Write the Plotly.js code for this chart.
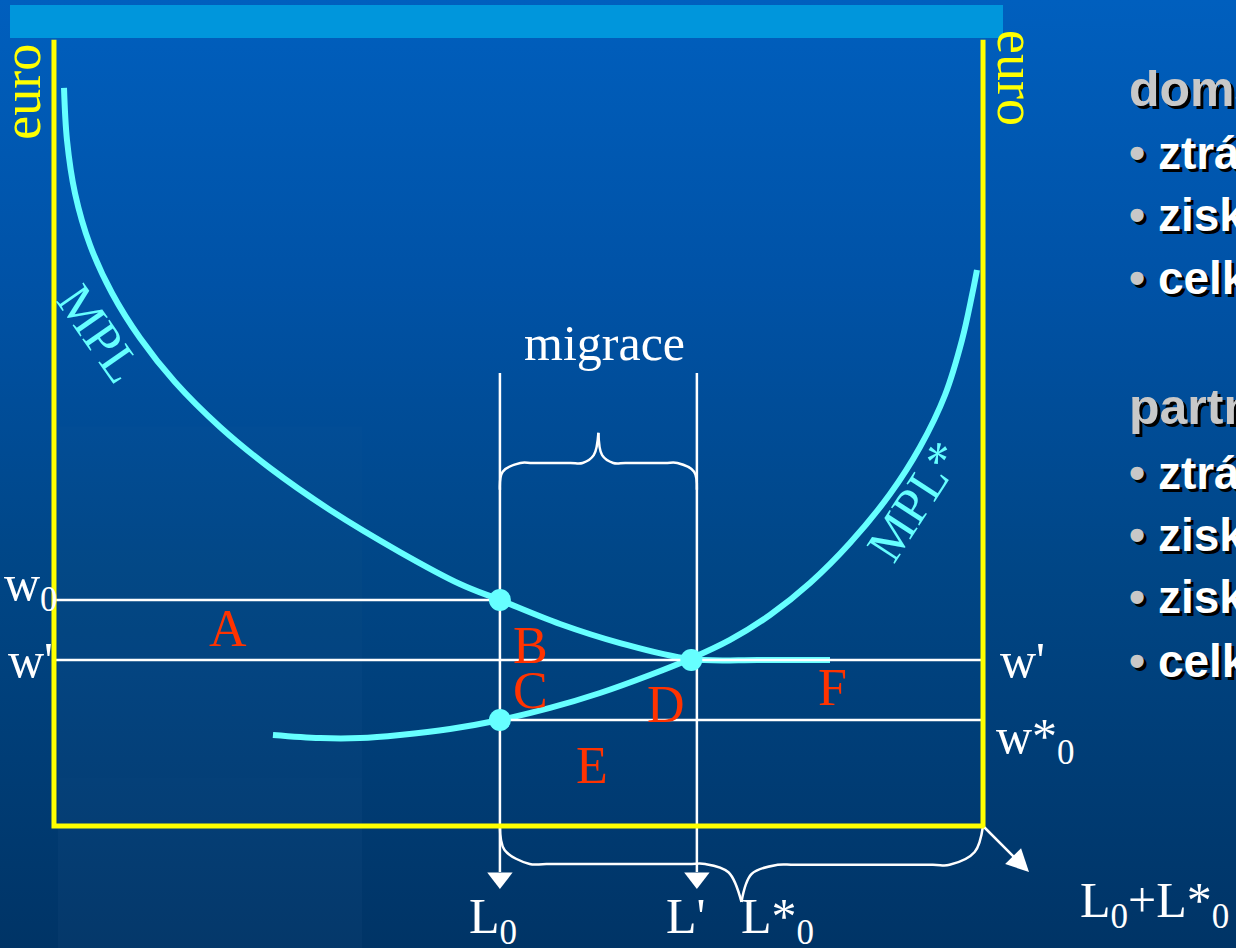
<!DOCTYPE html>
<html>
<head>
<meta charset="utf-8">
<script src="https://cdn.plot.ly/plotly-3.0.1.min.js"></script>
<style>
  html, body { margin: 0; padding: 0; }
  body { width: 1236px; height: 948px; overflow: hidden;
         background: linear-gradient(to bottom, #005fbe 0%, #0052a6 30%, #004686 60%, #003466 100%); }
  #chart { width: 1236px; height: 948px; }
</style>
</head>
<body>
<div id="chart"></div>
<script>
// ---- values (x: labour, 0..100 = L0+L*0 ; y: euro) ----
const laborTotal = 100;
const euroTop = 95.2;
const L0 = 48.0;
const Lprime = 69.2;
const w0 = 27.36;
const wPrime = 20.1;
const wStar0 = 12.83;

const mplX = [1.08, 1.40, 2.26, 3.88, 6.24, 9.26, 13.02, 17.87, 23.25, 29.71, 37.24, 43.70, 48.0, 54.47, 60.93, 68.46, 75.99, 83.53];
const mplY = [89.35, 83.05, 76.63, 70.34, 64.53, 59.08, 53.75, 48.31, 43.34, 38.26, 33.17, 29.30, 27.36, 24.46, 22.15, 20.22, 20.10, 20.10];

const mplStarX = [23.57, 28.63, 32.94, 37.24, 42.63, 48.0, 53.39, 58.77, 64.15, 68.46, 72.77, 77.07, 81.38, 85.68, 89.99, 93.22, 95.91, 97.74, 98.82, 99.35];
const mplStarY = [11.02, 10.65, 10.65, 11.02, 11.74, 12.83, 14.29, 16.10, 18.28, 20.22, 22.52, 25.54, 29.42, 34.26, 40.19, 45.88, 52.18, 58.84, 64.29, 67.31];

const pointX = [48.0, 48.0, 68.6];
const pointY = [27.36, 12.83, 20.1];

const braceTopLX = [48.0, 48.3, 50.2, 51.5, 55.6, 56.9, 58.1, 58.6];
const braceTopLY = [40.7, 42.9, 43.95, 43.95, 43.95, 43.95, 44.9, 47.6];
const braceTopRX = [58.6, 59.0, 60.2, 61.5, 65.8, 67.1, 68.9, 69.2];
const braceTopRY = [47.6, 44.9, 43.95, 43.95, 43.95, 43.95, 42.9, 40.7];

const braceBotLX = [48.0, 48.5, 51.2, 53.0, 68.3, 70.1, 72.6, 74.0];
const braceBotLY = [0, -2.9, -4.6, -4.6, -4.6, -4.6, -5.6, -9.2];
const braceBotRX = [74.0, 75.1, 77.9, 79.7, 94.6, 96.4, 99.1, 100];
const braceBotRY = [-9.2, -5.8, -4.7, -4.7, -4.7, -4.7, -3.15, 0];

const guideTop = 54.84;
const arrowLineEnd = -5.57;
const arrowMarkY = -6.3;

const regionLabels = ['A', 'B', 'C', 'D', 'E', 'F'];
const regionX = [18.73, 51.24, 51.24, 65.88, 57.91, 83.75];
const regionY = [23.97, 21.91, 16.46, 14.65, 7.38, 16.71];

const axisLabels = ['w<sub>0</sub>', "w'", "w'", 'w*<sub>0</sub>', 'L<sub>0</sub>', "L'", 'L*<sub>0</sub>', 'L<sub>0</sub>+L*<sub>0</sub>', 'migrace'];
const axisLabelX = [-2.48, -2.55, 104.2, 105.7, 47.25, 68.0, 77.9, 118.5, 59.3];
const axisLabelY = [28.9, 20.1, 20.1, 10.4, -11.33, -10.9, -11.33, -9.4, 58.47];

const sideLines = ['domácí země:', '• ztráta', '• zisk', '• celkem', 'partnerská země:', '• ztráta', '• zisk', '• zisk', '• celkem'];
const sideY = [89.25, 81.48, 73.97, 66.34, 50.73, 42.74, 35.23, 27.72, 19.98];
const sideX = 115.5;

// ---- styling ----
const CYAN = '#66ffff', YEL = '#ffff00', RED = '#ff3300', WHITE = '#ffffff';
const serif = '"Liberation Serif", "Times New Roman", serif';
const sans = '"Liberation Sans", Arial, sans-serif';

const traces = [];
function line(x, y, color, width, shape) {
  traces.push({type: 'scatter', mode: 'lines', x: x, y: y, hoverinfo: 'skip',
    line: {color: color, width: width, shape: shape || 'linear', smoothing: 1}});
}
// curves
line(mplX, mplY, CYAN, 6, 'spline');
line(mplStarX, mplStarY, CYAN, 6, 'spline');
// wage lines
line([0, L0], [w0, w0], WHITE, 2.5);
line([0, laborTotal], [wPrime, wPrime], WHITE, 2.5);
line([L0, laborTotal], [wStar0, wStar0], WHITE, 2.5);
// guide verticals
line([L0, L0], [guideTop, arrowLineEnd], WHITE, 2.5);
line([Lprime, Lprime], [guideTop, arrowLineEnd], WHITE, 2.5);
traces.push({type: 'scatter', mode: 'markers', x: [L0, Lprime], y: [arrowMarkY, arrowMarkY], hoverinfo: 'skip',
  marker: {symbol: 'triangle-down', size: 22, color: WHITE}});
// braces
line(braceTopLX, braceTopLY, WHITE, 2.5, 'spline');
line(braceTopRX, braceTopRY, WHITE, 2.5, 'spline');
line(braceBotLX, braceBotLY, WHITE, 2.5, 'spline');
line(braceBotRX, braceBotRY, WHITE, 2.5, 'spline');
// frame
line([0, 0, laborTotal, laborTotal], [euroTop, 0, 0, euroTop], YEL, 5);
// points
traces.push({type: 'scatter', mode: 'markers', x: pointX, y: pointY, hoverinfo: 'skip',
  marker: {size: 22, color: CYAN}});

const ann = [];
regionLabels.forEach((t, i) => ann.push({x: regionX[i], y: regionY[i], text: t, showarrow: false,
  xanchor: 'center', yanchor: 'middle', font: {family: serif, size: 52, color: RED}}));
axisLabels.forEach((t, i) => ann.push({x: axisLabelX[i], y: axisLabelY[i], text: t, showarrow: false,
  xanchor: 'center', yanchor: 'middle', font: {family: serif, size: 50, color: WHITE}}));
ann.push({x: -3.47, y: 88.86, text: 'euro', textangle: -90, showarrow: false, xanchor: 'center', yanchor: 'middle',
  font: {family: serif, size: 54, color: YEL}});
ann.push({x: 103.55, y: 90.56, text: 'euro', textangle: 90, showarrow: false, xanchor: 'center', yanchor: 'middle',
  font: {family: serif, size: 54, color: YEL}});
ann.push({x: 4.9, y: 59.6, text: 'MPL', textangle: 55, showarrow: false, xanchor: 'center', yanchor: 'middle',
  font: {family: serif, size: 51, color: CYAN}});
ann.push({x: 92.7, y: 39.3, text: 'MPL*', textangle: -57, showarrow: false, xanchor: 'center', yanchor: 'middle',
  font: {family: serif, size: 51, color: CYAN}});
// diagonal arrow at the bottom right corner
ann.push({x: 104.95, y: -5.57, ax: laborTotal, ay: 0, axref: 'x', ayref: 'y', text: '', showarrow: true,
  arrowhead: 2, arrowsize: 1.8, arrowwidth: 2.5, arrowcolor: WHITE, standoff: 0, startstandoff: 0});
// side text (with shadow)
const faintBands = [0.55, 0.42, 0.3, 0.18];
sideLines.forEach((t, i) => {
  const heading = !t.startsWith('•');
  const size = heading ? 50 : 46;
  ann.push({x: sideX, y: sideY[i], text: t, showarrow: false, xanchor: 'left', yanchor: 'middle',
    xshift: 3, yshift: -3, font: {family: sans, size: size, color: '#000000', weight: 'bold'}});
  const txt = heading ? t : '<span style="color:#c8c8c8">•</span>' + t.slice(1);
  ann.push({x: sideX, y: sideY[i], text: txt, showarrow: false, xanchor: 'left', yanchor: 'middle',
    font: {family: sans, size: size, color: heading ? '#c8c8c8' : WHITE, weight: 'bold'}});
});

const shapes = faintBands.map(top => ({type: 'rect', xref: 'paper', yref: 'paper', x0: 58/1236, x1: 362/1236,
  y0: 0, y1: top, fillcolor: 'rgba(255,255,255,0.008)', line: {width: 0}, layer: 'below'}));
shapes.push({type: 'rect', xref: 'paper', yref: 'paper', x0: 10/1236, x1: 1003/1236, y0: 1 - 38/948, y1: 1 - 5/948,
  fillcolor: '#0096dc', line: {width: 0}, layer: 'below'});

const layout = {
  width: 1236, height: 948,
  margin: {l: 0, r: 0, t: 0, b: 0, pad: 0},
  paper_bgcolor: 'rgba(0,0,0,0)', plot_bgcolor: 'rgba(0,0,0,0)',
  showlegend: false,
  xaxis: {range: [-5.81, 127.23], visible: false, fixedrange: true},
  yaxis: {range: [-14.77, 100], visible: false, fixedrange: true},
  shapes: shapes,
  annotations: ann
};
Plotly.newPlot('chart', traces, layout, {displayModeBar: false, staticPlot: true});
</script>
</body>
</html>
